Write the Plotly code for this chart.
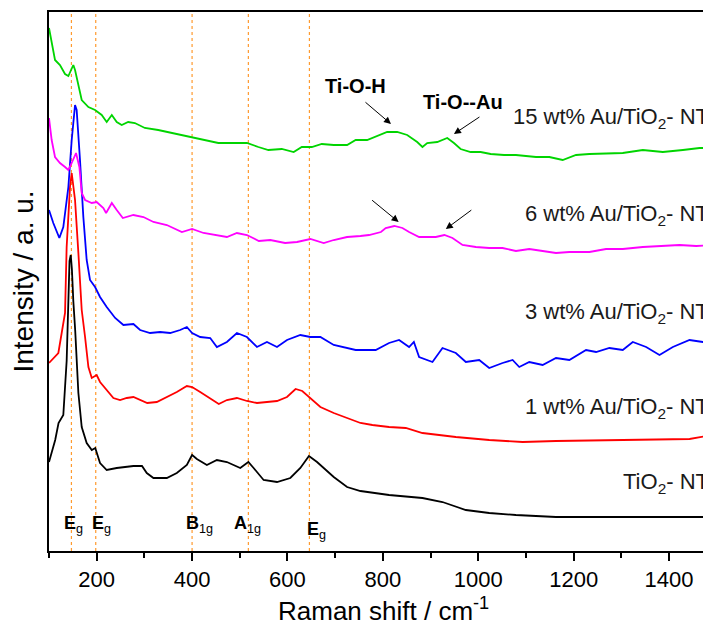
import plotly.graph_objects as go

# ---------------- data (Raman shift in cm-1, intensity in a.u. incl. stacking offset) -------------
tio2_x = [100, 113, 120, 130, 137, 140.5, 143, 145.6, 148, 151, 155, 161.6, 168.6, 179, 189.7, 197, 207, 221, 242, 277,
          295, 305, 319, 347, 368, 389, 400, 410, 431, 452, 473, 501, 518, 529, 550, 578, 606, 627, 645, 662, 697,
          725, 753, 813, 883, 925, 953, 974, 1023, 1079, 1163, 1300, 1400, 1491]
tio2_y = [89, 111, 128, 136, 190, 251, 290, 296, 282, 250, 220, 158, 124, 108, 101, 103, 88, 81, 83, 85,
          85, 78, 73, 73, 78, 86, 96, 92, 86, 91, 89, 83, 89, 83, 71, 69, 73, 83, 95, 89, 74,
          64, 60, 56, 53, 49, 44, 41, 38, 36, 34, 34, 34, 34]

au1_x = [100, 119.6, 126.6, 133.6, 137, 144, 147.6, 154.6, 161.6, 168.6, 175.6, 182.6, 189.7, 200, 207, 221, 235, 249,
         263, 277, 291, 306, 326, 347, 368, 389, 400, 417, 438, 456, 473, 494, 515, 536, 557, 578, 599, 617, 631,
         645, 669, 697, 725, 753, 778, 813, 848, 883, 953, 1023, 1093, 1163, 1303, 1443, 1491]
au1_y = [188, 198, 218, 238, 304, 364, 378, 351, 298, 241, 214, 184, 173, 176, 169, 161, 153, 151,
         153, 154, 151, 148, 149, 154, 159, 165, 164, 159, 153, 147, 151, 153, 150, 148, 149, 150, 154, 162, 160,
         154, 144, 138, 133, 128, 126, 124, 123, 118, 114, 111, 109, 110, 111, 112, 116]

au3_x = [100, 109, 121.7, 130, 140.6, 147.6, 154.6, 158, 165, 172, 179, 186, 196.6, 207, 221, 238.7, 256, 277, 291, 312,
         333, 354, 375, 389, 400, 417, 438, 452, 473, 494, 515, 536, 557, 578, 599, 627, 648, 669, 697, 725, 743,
         785, 813, 834, 855, 865, 876, 904, 925, 953, 974, 1002, 1023, 1051, 1072, 1086, 1107, 1135, 1163, 1191,
         1226, 1247, 1275, 1303, 1324, 1352, 1380, 1408, 1443, 1471, 1491]
au3_y = [341, 328, 313, 324, 364, 411, 446, 441, 391, 334, 291, 271, 264, 254, 244, 233, 226, 227, 221, 218,
         219, 218, 221, 224, 218, 214, 213, 204, 209, 218, 214, 204, 209, 204, 211, 216, 214, 214, 206, 203, 201,
         201, 208, 211, 204, 209, 194, 189, 203, 198, 189, 191, 183, 188, 191, 184, 189, 186, 193, 191,
         201, 199, 203, 201, 209, 204, 196, 204, 211, 209, 208]

au6_x = [100, 105.6, 112.6, 123, 133.6, 140.6, 147.6, 156.7, 163.7, 168.6, 175.6, 189.7, 200, 214, 219.7, 231.7, 242,
         254.8, 277, 298, 319, 347, 378.6, 400, 424, 452, 473, 494, 515, 540, 564, 595, 620, 648, 676, 697, 725,
         753, 771, 796, 806, 824, 841, 855, 876, 890, 911, 929, 946, 967, 995, 1023, 1051, 1079, 1107, 1135, 1163,
         1191, 1233, 1268, 1303, 1345, 1387, 1422, 1457, 1491]
au6_y = [433, 411, 394, 388, 384, 381, 388, 398, 384, 358, 351, 348, 349, 343, 338, 348, 341,
         333, 336, 334, 329, 326, 319, 322, 318, 316, 314, 318, 316, 310, 311, 308, 309, 312, 308, 311, 314,
         315, 316, 319, 323, 325, 323, 319, 314, 314, 314, 316, 313, 306, 304, 303, 303, 300, 302, 300, 298,
         299, 299, 302, 302, 304, 305, 306, 305, 306]

au15_x = [100, 105.6, 112.6, 123, 133.6, 140.6, 151, 154.6, 161, 168.6, 182.6, 196.6, 210.5, 221, 231.7, 242, 252.5,
          266, 280, 301, 329, 357, 392, 420, 455, 483, 515, 539, 560, 588, 613, 630, 651, 672, 697, 725, 743, 767,
          795, 809, 830, 851, 872, 883, 893, 914, 935, 949, 963, 984, 1005, 1026, 1054, 1079, 1121, 1149, 1177,
          1205, 1233, 1275, 1303, 1345, 1387, 1429, 1464, 1491]
au15_y = [523, 508, 491, 486, 477, 475, 486, 481, 468, 451, 444, 441, 436, 429, 436, 429, 426,
          429, 428, 423, 421, 418, 414, 411, 408, 408, 408, 404, 401, 402, 399, 404, 404, 407, 406, 406, 411, 411,
          416, 419, 419, 416, 409, 404, 408, 409, 413, 408, 402, 399, 399, 397, 396, 396, 394, 394, 391,
          396, 397, 398, 398, 401, 399, 401, 403, 403]

series_names = ["TiO2- NT", "1 wt% Au/TiO2- NT", "3 wt% Au/TiO2- NT", "6 wt% Au/TiO2- NT", "15 wt% Au/TiO2- NT"]
series_labels = ["TiO<sub>2</sub>- NT", "1 wt% Au/TiO<sub>2</sub>- NT", "3 wt% Au/TiO<sub>2</sub>- NT",
                 "6 wt% Au/TiO<sub>2</sub>- NT", "15 wt% Au/TiO<sub>2</sub>- NT"]
series_label_y = [68, 143, 238, 336, 433]
series_colors = ["#000000", "#FF0000", "#0000FF", "#FF00FF", "#00D400"]
series_x = [tio2_x, au1_x, au3_x, au6_x, au15_x]
series_y = [tio2_y, au1_y, au3_y, au6_y, au15_y]

mode_positions = [147, 198, 400, 518, 646]
mode_labels = ["<b>E</b><sub>g</sub>", "<b>E</b><sub>g</sub>", "<b>B</b><sub>1g</sub>",
               "<b>A</b><sub>1g</sub>", "<b>E</b><sub>g</sub>"]
mode_label_x = [151, 210, 415, 517, 660]
mode_label_y = [27, 27, 27, 27, 21]

FONT = "Liberation Sans, Arial, sans-serif"

# the page body adds an 8 px offset; figure is sized so the plot lands where the reference has it
W, H = 703, 616
ML, MR, MT, MB = 41, 0, 4, 73
PLOT_W, PLOT_H = W - ML - MR, H - MT - MB

fig = go.Figure()
for xs, ys, c, n in zip(series_x, series_y, series_colors, series_names):
    fig.add_trace(go.Scatter(x=xs, y=ys, mode="lines", name=n,
                             line=dict(color=c, width=1.8), showlegend=False))

# dotted orange mode lines
for p in mode_positions:
    fig.add_shape(type="line", xref="x", yref="paper", x0=p, x1=p, y0=0, y1=1,
                  line=dict(color="#FF9A2E", width=1.2, dash="dot"), layer="below")

annotations = []
for lx, ly, t in zip(mode_label_x, mode_label_y, mode_labels):
    annotations.append(dict(x=lx, y=ly, xref="x", yref="y", text=t, showarrow=False,
                            font=dict(family=FONT, size=18, color="black"), xanchor="center", yanchor="middle"))

for ly, t in zip(series_label_y, series_labels):
    annotations.append(dict(x=1, y=ly, xref="paper", yref="y", text=t, showarrow=False,
                            font=dict(family=FONT, size=22, color="#1a1a1a"), xanchor="right", yanchor="middle"))

# bold species labels
annotations.append(dict(x=(355.5 - 49) / PLOT_W, y=465, xref="paper", yref="y", text="<b>Ti-O-H</b>", showarrow=False,
                        font=dict(family=FONT, size=20, color="black"), xanchor="center", yanchor="middle"))
annotations.append(dict(x=(463 - 49) / PLOT_W, y=449, xref="paper", yref="y", text="<b>Ti-O--Au</b>", showarrow=False,
                        font=dict(family=FONT, size=20, color="black"), xanchor="center", yanchor="middle"))

# x-axis title as an annotation so its vertical position can be set exactly
annotations.append(dict(x=(384 - 49) / PLOT_W, y=-58 / PLOT_H, xref="paper", yref="paper",
                        text="Raman shift / cm<sup>-1</sup>", showarrow=False,
                        font=dict(family=FONT, size=26, color="black"), xanchor="center", yanchor="middle"))

# arrows: (head x, head y, tail dx, tail dy)
arrows = [(817, 427, -27, -23), (949, 417, 27, -18), (833, 329, -28, -23), (932, 322, 27, -20)]
for hx, hy, ax, ay in arrows:
    annotations.append(dict(x=hx, y=hy, xref="x", yref="y", ax=ax, ay=ay, text="", showarrow=True,
                            arrowhead=2, arrowsize=1.4, arrowwidth=1, arrowcolor="black"))

fig.update_layout(
    width=W, height=H,
    margin=dict(l=ML, r=MR, t=MT, b=MB),
    paper_bgcolor="white", plot_bgcolor="white",
    font=dict(family=FONT, color="black"),
    annotations=annotations,
    showlegend=False,
)
fig.update_xaxes(range=[100, 1488], showgrid=False, zeroline=False,
                 showline=True, linecolor="black", linewidth=2, mirror=True,
                 ticks="outside", ticklen=8, tickwidth=2, tickcolor="black",
                 tick0=0, dtick=200, tickfont=dict(family=FONT, size=22, color="black"),
                 ticklabelstandoff=0,
                 minor=dict(ticks="outside", ticklen=5, tickwidth=2, tickcolor="black", dtick=100))
fig.update_yaxes(range=[0, 539], showgrid=False, zeroline=False, showline=True, linecolor="black",
                 linewidth=2, mirror=False, ticks="", showticklabels=False,
                 title=dict(text="Intensity / a. u.", font=dict(family=FONT, size=28, color="black"),
                            standoff=9))

fig.write_html("out.html")
